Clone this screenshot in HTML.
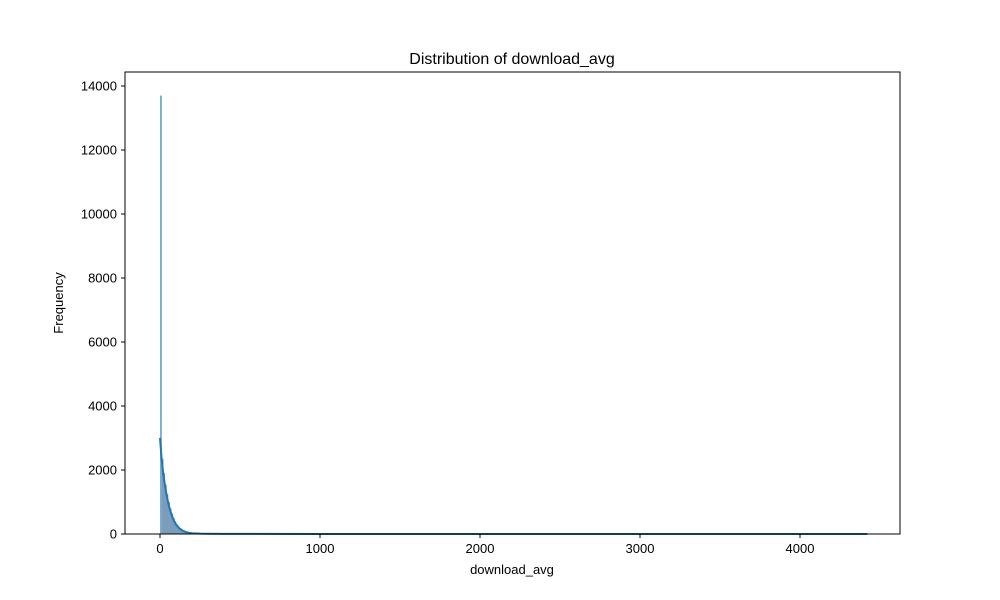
<!DOCTYPE html>
<html><head><meta charset="utf-8"><style>body{margin:0;background:#fff}svg{display:block;font-family:"Liberation Sans","DejaVu Sans",sans-serif}</style></head>
<body>
<svg id="chart" width="1000" height="600">
<rect width="1000" height="600" fill="#fff"/>
<text x="512" y="64" text-anchor="middle" font-size="16">Distribution of download_avg</text>
<g id="bars"></g>
<path id="kde" fill="none" stroke="#1f77b4" stroke-width="2"/>
<rect x="125" y="72" width="775" height="462" fill="none" stroke="#000" stroke-width="1"/>
<g id="xt"></g>
<g id="yt"></g>
<text x="512" y="574" text-anchor="middle" font-size="13">download_avg</text>
<text transform="translate(63,303) rotate(-90)" text-anchor="middle" font-size="13">Frequency</text>
</svg>
<script>
const binWidth = 10;
const binCounts = [13700,2350,1900,1550,1250,1000,800,640,500,390,300,230,180,140,110,85,65,50,40,32,25,20,16,13,11,9,8,7,6,5,4,4,3,3,3,2,2,2,2,2];
const kdeX = [0,10,20,30,40,50,60,70,80,90,100,120,140,160,180,200,250,300,400,600,1000,2000,3000,4420];
const kdeY = [3000,2350,1900,1550,1250,1000,800,640,500,390,300,180,110,65,40,25,12,7,4,2,1,0.5,0.3,0.2];
const xTicks = [0,1000,2000,3000,4000];
const yTicks = [0,2000,4000,6000,8000,10000,12000,14000];
const NS="http://www.w3.org/2000/svg";
const xs=v=>160+v*0.16, ys=v=>534-v*0.032;
const bars=document.getElementById('bars');
binCounts.forEach((c,i)=>{
 const r=document.createElementNS(NS,'rect');
 r.setAttribute('x',xs(i*binWidth));r.setAttribute('width',binWidth*0.16+0.3);
 r.setAttribute('y',ys(c));r.setAttribute('height',534-ys(c));
 r.setAttribute('fill',i===0?'rgba(31,119,180,0.6)':'#7a9dbb');
 
 
 bars.appendChild(r);
});
const tail=document.createElementNS(NS,'rect');
tail.setAttribute('x',xs(400));tail.setAttribute('width',xs(4420)-xs(400));tail.setAttribute('y',533);tail.setAttribute('height',1);tail.setAttribute('fill','#7a9dbb');


bars.appendChild(tail);
document.getElementById('kde').setAttribute('d',kdeX.map((x,i)=>(i?'L':'M')+xs(x)+','+ys(kdeY[i])).join(''));
const xt=document.getElementById('xt');
xTicks.forEach(t=>{const x=xs(t);
 xt.insertAdjacentHTML('beforeend',`<line x1="${x}" x2="${x}" y1="534" y2="538" stroke="#000"/><text x="${x}" y="553" text-anchor="middle" font-size="13">${t}</text>`);});
const yt=document.getElementById('yt');
yTicks.forEach(t=>{const y=ys(t);
 yt.insertAdjacentHTML('beforeend',`<line x1="121" x2="125" y1="${y}" y2="${y}" stroke="#000"/><text x="117" y="${y+4.5}" text-anchor="end" font-size="13">${t}</text>`);});
</script>
</body></html>
